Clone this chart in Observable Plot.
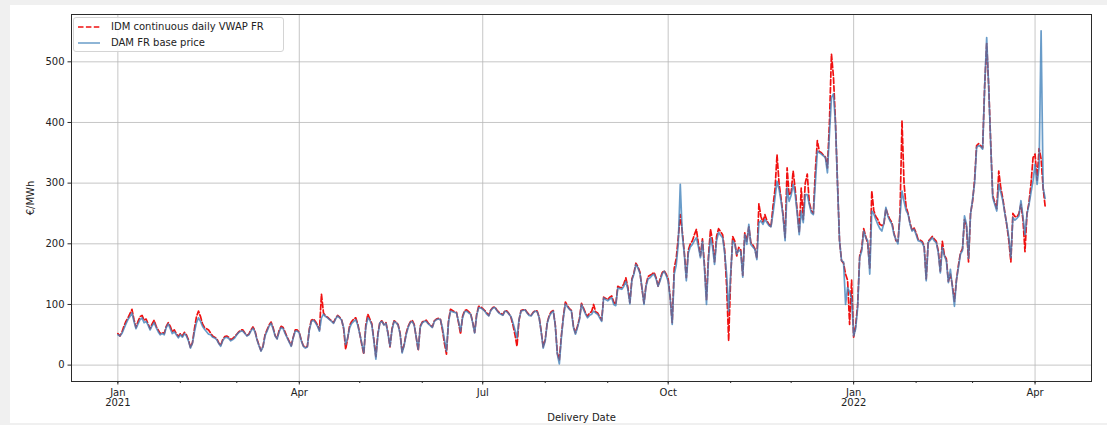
<!DOCTYPE html>
<html>
<head>
<meta charset="utf-8">
<script src="https://cdn.jsdelivr.net/npm/d3@7"></script>
<script src="https://cdn.jsdelivr.net/npm/@observablehq/plot@0.6"></script>
<style>
  html, body { margin: 0; padding: 0; background: #f0f0f0; }
  #fig { position: relative; width: 1107px; height: 425px; }
  #paper { position: absolute; left: 10px; top: 5px; width: 1097px; height: 418px; background: #ffffff; }
  #chart { position: absolute; left: 0; top: 0; }
  #legend { position: absolute; left: 73px; top: 17px; width: 209px; height: 33px;
            background: rgba(255,255,255,0.85); border: 1px solid #d4d4d4; border-radius: 3px;
            font-family: "DejaVu Sans", sans-serif; font-size: 10px; color: #222; }
  #legend .row { position: absolute; left: 0; height: 14px; line-height: 14px; }
  #legend svg { position: absolute; left: 4px; top: 0; }
  #legend span { position: absolute; left: 37px; top: 0; white-space: nowrap; }
</style>
</head>
<body>
<div id="fig">
  <div id="paper"></div>
  <div id="chart"></div>
  <div id="legend"></div>
</div>
<script>
// ---- Series names ----
const seriesNames = ["IDM continuous daily VWAP FR", "DAM FR base price"];

// ---- DAM FR base price (daily, from 2021-01-01) ----
const damFR2021 = [
  50, 48, 52, 60, 68, 75, 80, 86, 72, 60, 68, 75, 78, 70, 72, 66, 58, 65, 70, 62, 55, 50, 52, 50, 62, 68, 60, 52, 55, 50, 45,
  50, 46, 52, 48, 40, 28, 36, 55, 70, 78, 72, 64, 59, 55, 51, 50, 46, 45, 42, 36, 31, 40, 45, 46, 44, 40, 42, 45,
  50, 54, 56, 56, 52, 48, 50, 56, 61, 55, 42, 32, 23, 30, 48, 56, 64, 69, 60, 48, 43, 55, 62, 60, 52, 45, 38, 31, 45, 56, 56,
  53, 40, 31, 28, 30, 58, 72, 74, 70, 64, 56, 78, 84, 80, 78, 75, 72, 69, 76, 81, 78, 74, 62, 34, 45, 62, 69, 72, 75, 66,
  51, 36, 20, 62, 78, 74, 66, 40, 10, 50, 70, 72, 66, 69, 52, 31, 58, 72, 70, 66, 52, 20, 32, 50, 62, 70, 72, 66, 46, 26, 62,
  70, 72, 72, 68, 65, 62, 72, 75, 76, 75, 62, 42, 23, 70, 89, 88, 87, 86, 72, 56, 78, 88, 89, 86, 84, 70, 53, 82, 95, 94,
  92, 89, 84, 81, 90, 94, 95, 90, 86, 84, 82, 89, 88, 84, 80, 70, 58, 45, 75, 89, 90, 91, 86, 82, 81, 86, 89, 88, 78, 55, 28,
  40, 69, 80, 86, 89, 65, 18, 2, 45, 78, 101, 96, 92, 89, 62, 51, 62, 75, 100, 92, 84, 78, 82, 84, 89, 86, 84, 78, 72, 111, 108,
  106, 109, 111, 100, 98, 127, 126, 125, 130, 138, 125, 101, 140, 150, 166, 160, 151, 128, 100, 130, 142, 144, 148, 150, 142, 130, 139, 150, 155, 148,
  138, 110, 67, 150, 165, 200, 298, 215, 183, 139, 185, 195, 199, 205, 210, 195, 177, 204, 160, 100, 175, 210, 195, 166, 205, 219, 214, 210, 185, 150, 89,
  150, 205, 200, 183, 190, 187, 145, 215, 199, 232, 199, 195, 191, 174, 235, 238, 232, 240, 235, 230, 228, 250, 276, 303, 290, 270, 245, 205, 292, 270,
  280, 298, 281, 250, 215, 254, 235, 281, 281, 265, 251, 248, 300, 353, 350, 348, 345, 342, 317, 381, 441, 447, 397, 298, 205, 172, 170, 100, 128, 120, 110
];
const damFR2022 = [
  48, 60, 95, 177, 188, 221, 210, 205, 150, 254, 249, 240, 232, 225, 221, 234, 260, 245, 238, 232, 215, 207, 200, 245, 287, 270, 255, 249, 232, 221, 224,
  215, 205, 204, 202, 194, 139, 202, 206, 210, 205, 202, 185, 152, 194, 180, 172, 136, 158, 128, 97, 140, 161, 183, 189, 246, 232, 176, 249,
  273, 300, 359, 362, 360, 356, 458, 540, 458, 364, 276, 265, 254, 298, 285, 271, 250, 232, 210, 177, 243, 239, 242, 246, 271, 245, 215, 249, 265, 285, 304,
  331, 298, 327, 551, 292, 275
];

// ---- IDM continuous daily VWAP FR (daily, from 2021-01-01) ----
const idmFR2021 = [
  52, 48, 54, 64, 72, 78, 85, 92, 75, 62, 72, 80, 82, 74, 76, 68, 60, 68, 74, 64, 58, 52, 54, 52, 64, 70, 64, 55, 58, 52, 47,
  52, 48, 54, 50, 42, 29, 37, 60, 80, 89, 80, 68, 62, 60, 58, 53, 48, 46, 44, 37, 32, 42, 47, 48, 46, 42, 44, 47,
  51, 55, 58, 58, 53, 49, 51, 58, 63, 57, 43, 33, 24, 31, 50, 58, 66, 71, 62, 49, 44, 57, 64, 62, 54, 46, 39, 32, 46, 58, 58,
  54, 41, 32, 29, 31, 60, 74, 76, 72, 66, 58, 117, 86, 81, 79, 76, 73, 70, 77, 82, 79, 75, 60, 26, 44, 66, 72, 76, 78, 68,
  52, 34, 18, 66, 84, 76, 68, 42, 14, 52, 71, 73, 67, 70, 53, 30, 60, 73, 71, 67, 53, 22, 33, 52, 64, 71, 74, 67, 46, 24, 64,
  71, 73, 74, 69, 66, 63, 73, 76, 77, 76, 58, 36, 18, 72, 92, 90, 88, 87, 70, 51, 80, 90, 91, 88, 85, 71, 54, 84, 97, 96,
  93, 90, 86, 82, 91, 95, 96, 91, 87, 85, 83, 90, 89, 85, 79, 66, 50, 31, 74, 90, 91, 92, 87, 83, 82, 87, 90, 89, 79, 56, 30,
  42, 70, 82, 88, 90, 66, 20, 8, 48, 80, 104, 98, 93, 90, 64, 53, 64, 77, 102, 94, 86, 80, 86, 88, 100, 88, 86, 80, 74, 112, 110,
  108, 112, 114, 104, 100, 130, 128, 128, 134, 144, 128, 103, 142, 152, 168, 162, 153, 126, 102, 132, 146, 148, 150, 153, 144, 130, 142, 152, 156, 150,
  142, 112, 70, 160, 176, 210, 248, 220, 186, 144, 190, 200, 205, 215, 224, 200, 180, 208, 165, 108, 180, 224, 205, 170, 212, 225, 220, 215, 190, 130, 40,
  145, 212, 205, 180, 194, 190, 148, 218, 204, 228, 202, 198, 192, 176, 266, 245, 236, 248, 238, 232, 228, 262, 290, 347, 300, 275, 248, 210, 325, 280,
  285, 320, 290, 255, 218, 292, 240, 300, 315, 268, 255, 250, 320, 370, 352, 350, 346, 343, 325, 400, 513, 475, 400, 300, 205, 172, 168, 150, 140, 67, 140
];
const idmFR2022 = [
  46, 65, 100, 180, 192, 225, 212, 200, 160, 287, 255, 245, 240, 232, 230, 232, 258, 248, 240, 235, 218, 205, 204, 250, 403, 300, 262, 250, 234, 222, 226,
  218, 207, 206, 204, 196, 142, 204, 208, 212, 208, 204, 188, 155, 204, 182, 175, 138, 150, 131, 105, 140, 165, 185, 192, 240, 228, 170, 250,
  270, 305, 362, 365, 362, 358, 460, 530, 460, 366, 280, 268, 258, 320, 292, 275, 252, 230, 205, 170, 250, 245, 244, 250, 265, 240, 187, 250, 268, 300, 342,
  348, 305, 357, 340, 292, 262
];

// ---- Axis ticks ----
const xTickDates = ["2021-01-01", "2021-04-01", "2021-07-01", "2021-10-01", "2022-01-01", "2022-04-01"];
const xTickLabels = ["Jan\n2021", "Apr", "Jul", "Oct", "Jan\n2022", "Apr"];
const yTicks = [0, 100, 200, 300, 400, 500];
const xDomain = ["2020-12-09", "2022-04-29"];
const yDomain = [-27, 578];

// ---- Build tables ----
const startDate = Date.UTC(2021, 0, 1);
const dayMs = 86400000;
const damValues = damFR2021.concat(damFR2022);
const idmValues = idmFR2021.concat(idmFR2022);
const dam = damValues.map((v, i) => ({date: new Date(startDate + i * dayMs), value: v}));
const idm = idmValues.map((v, i) => ({date: new Date(startDate + i * dayMs), value: v}));

const parse = s => new Date(s + "T00:00:00Z");
const majorTicks = xTickDates.map(parse);
const labelMap = new Map(majorTicks.map((d, i) => [+d, xTickLabels[i]]));
const minorTicks = d3.utcMonths(parse(xDomain[0]), parse(xDomain[1]));

const frameColor = "#2b2b2b";
const gridColor = "#b8b8b8";
const redColor = "#f01010";
const blueColor = "#3f80ba";

const chart = Plot.plot({
  width: 1107,
  height: 425,
  marginLeft: 71,
  marginRight: 16,
  marginTop: 14,
  marginBottom: 44,
  x: {type: "utc", domain: xDomain.map(parse)},
  y: {domain: yDomain},
  style: {fontFamily: "'DejaVu Sans', sans-serif", fontSize: "10px", background: "transparent", color: "#222"},
  marks: [
    Plot.gridX(majorTicks, {stroke: gridColor, strokeOpacity: 1, strokeWidth: 0.8}),
    Plot.gridY(yTicks, {stroke: gridColor, strokeOpacity: 1, strokeWidth: 0.8}),
    Plot.lineY(idm, {x: "date", y: "value", stroke: redColor, strokeWidth: 1.7, strokeDasharray: "5.5,2.4"}),
    Plot.lineY(dam, {x: "date", y: "value", stroke: blueColor, strokeOpacity: 0.78, strokeWidth: 1.7}),
    Plot.frame({stroke: frameColor, strokeWidth: 1}),
    Plot.axisX(minorTicks, {tickSize: 2, stroke: frameColor, tickFormat: () => "", label: null}),
    Plot.axisX(majorTicks, {tickSize: 3.5, tickPadding: 3.5, stroke: frameColor, fill: "#222",
      tickFormat: d => labelMap.get(+d), label: "Delivery Date", labelAnchor: "center", labelOffset: 39, labelArrow: "none"}),
    Plot.axisY(yTicks, {tickSize: 3.5, tickPadding: 3.5, stroke: frameColor, fill: "#222",
      label: "€/MWh", labelAnchor: "center", labelOffset: 45, labelArrow: "none"})
  ]
});
document.getElementById("chart").appendChild(chart);

// ---- Legend ----
const legend = document.getElementById("legend");
const legendStyles = [
  {stroke: redColor, dash: "5.5,2.4", opacity: 1},
  {stroke: blueColor, dash: null, opacity: 0.78}
];
seriesNames.forEach((name, i) => {
  const row = document.createElement("div");
  row.className = "row";
  row.style.top = (2 + i * 15.5) + "px";
  row.style.width = "100%";
  const sw = d3.create("svg").attr("width", 24).attr("height", 14);
  sw.append("line").attr("x1", 0).attr("x2", 22).attr("y1", 7).attr("y2", 7)
    .attr("stroke", legendStyles[i].stroke).attr("stroke-width", 1.5)
    .attr("stroke-opacity", legendStyles[i].opacity)
    .attr("stroke-dasharray", legendStyles[i].dash);
  row.appendChild(sw.node());
  const t = document.createElement("span");
  t.textContent = name;
  row.appendChild(t);
  legend.appendChild(row);
});
</script>
</body>
</html>
